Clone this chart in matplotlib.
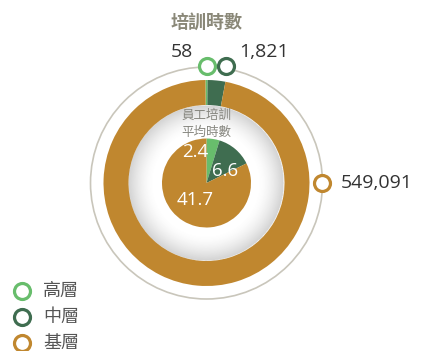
import numpy as np
import matplotlib
matplotlib.use("Agg")
import matplotlib.pyplot as plt
from matplotlib.patches import Wedge, Circle

# Data
levels = ["高層", "中層", "基層"]
total_hours = [58, 1821, 549091]
avg_hours = [2.4, 6.6, 41.7]
colors = ["#68bd6c", "#3f6d50", "#c0872f"]
title = "培訓時數"
center_title = "員工培訓\n平均時數"

CJK = ["Noto Sans CJK TC", "DejaVu Sans"]
NUM = ["Open Sans", "DejaVu Sans"]

W, H = 425, 351
fig = plt.figure(figsize=(W / 100, H / 100), dpi=100)
ax = fig.add_axes([0, 0, 1, 1])
ax.set_xlim(0, W)
ax.set_ylim(0, H)
ax.axis("off")


def py(y):
    return H - y


cx, cy = 206.5, py(183)
r_guide = 116
r_ring_out, r_ring_in = 103, 78
r_pie = 44.5

# thin guide circle
ax.add_patch(Circle((cx, cy), r_guide, fill=False, ec="#c9c6bb", lw=1.2, zorder=1))

# soft inner shadow inside the ring
n = 301
xs = np.linspace(cx - r_ring_in, cx + r_ring_in, n)
ys = np.linspace(cy - r_ring_in, cy + r_ring_in, n)
X, Y = np.meshgrid(xs, ys)
R = np.hypot(X - cx, Y - cy)
t = np.clip((R - (r_ring_in - 26)) / 26, 0, 1)
alpha = np.where(R <= r_ring_in, 0.32 * t ** 1.6, 0)
img = np.zeros((n, n, 4))
img[..., :3] = 0.45
img[..., 3] = alpha
ax.imshow(img, extent=(xs[0], xs[-1], ys[0], ys[-1]), origin="lower",
          interpolation="bilinear", zorder=2)

# outer ring: tiny shares are widened so they stay visible
ring_total = sum(total_hours)
ring_deg = np.array(total_hours) / ring_total * 360
min_deg = np.array([1.2, 10.0, 0.0])
ring_deg = np.maximum(ring_deg, min_deg)
ring_deg[-1] = 360 - ring_deg[:-1].sum()
start = 90.6
for d, c in zip(ring_deg, colors):
    ax.add_patch(Wedge((cx, cy), r_ring_out, start - d, start,
                       width=r_ring_out - r_ring_in, fc=c, ec="none", zorder=3))
    start -= d

# inner pie of average hours
pie_total = sum(avg_hours)
start = 90
for v, c in zip(avg_hours, colors):
    d = v / pie_total * 360
    ax.add_patch(Wedge((cx, cy), r_pie, start - d, start, fc=c, ec="none", zorder=4))
    start -= d

# pie value labels
pie_label_pos = [(195, 152), (225, 171), (195, 200)]
for v, (lx, ly) in zip(avg_hours, pie_label_pos):
    ax.text(lx, py(ly), f"{v:.1f}", color="white", fontsize=13.5, family=NUM,
            ha="center", va="center", zorder=6)

# titles
ax.text(cx, py(22), title, family=CJK, fontsize=13, fontweight="bold",
        color="#8a8878", ha="center", va="center")
ax.text(cx, py(124), center_title, family=CJK, fontsize=9, color="#878780",
        ha="center", va="center", linespacing=1.45, zorder=6)

# value markers with totals
marker_pos = [(207.5, 66), (226.5, 66), (322, 183)]
label_pos = [(193.5, 52, "right"), (239, 52, "left"), (341, 183, "left")]
for v, c, (mx, my), (lx, ly, ha) in zip(total_hours, colors, marker_pos, label_pos):
    ax.plot(mx, py(my), "o", ms=11.5, mfc="white", mec=c, mew=2.3, zorder=7)
    ax.text(lx, py(ly), f"{v:,}", family=NUM, fontsize=14, color="#333333",
            ha=ha, va="center")

# legend
for i, (name, c) in enumerate(zip(levels, colors)):
    y = 291 + 26 * i
    ax.plot(22.5, py(y), "o", ms=11.5, mfc="white", mec=c, mew=2.3, zorder=7,
            clip_on=False)
    ax.text(43, py(y), name, family=CJK, fontsize=13, color="#555555",
            ha="left", va="center")

fig.savefig("out.png", dpi=100)
